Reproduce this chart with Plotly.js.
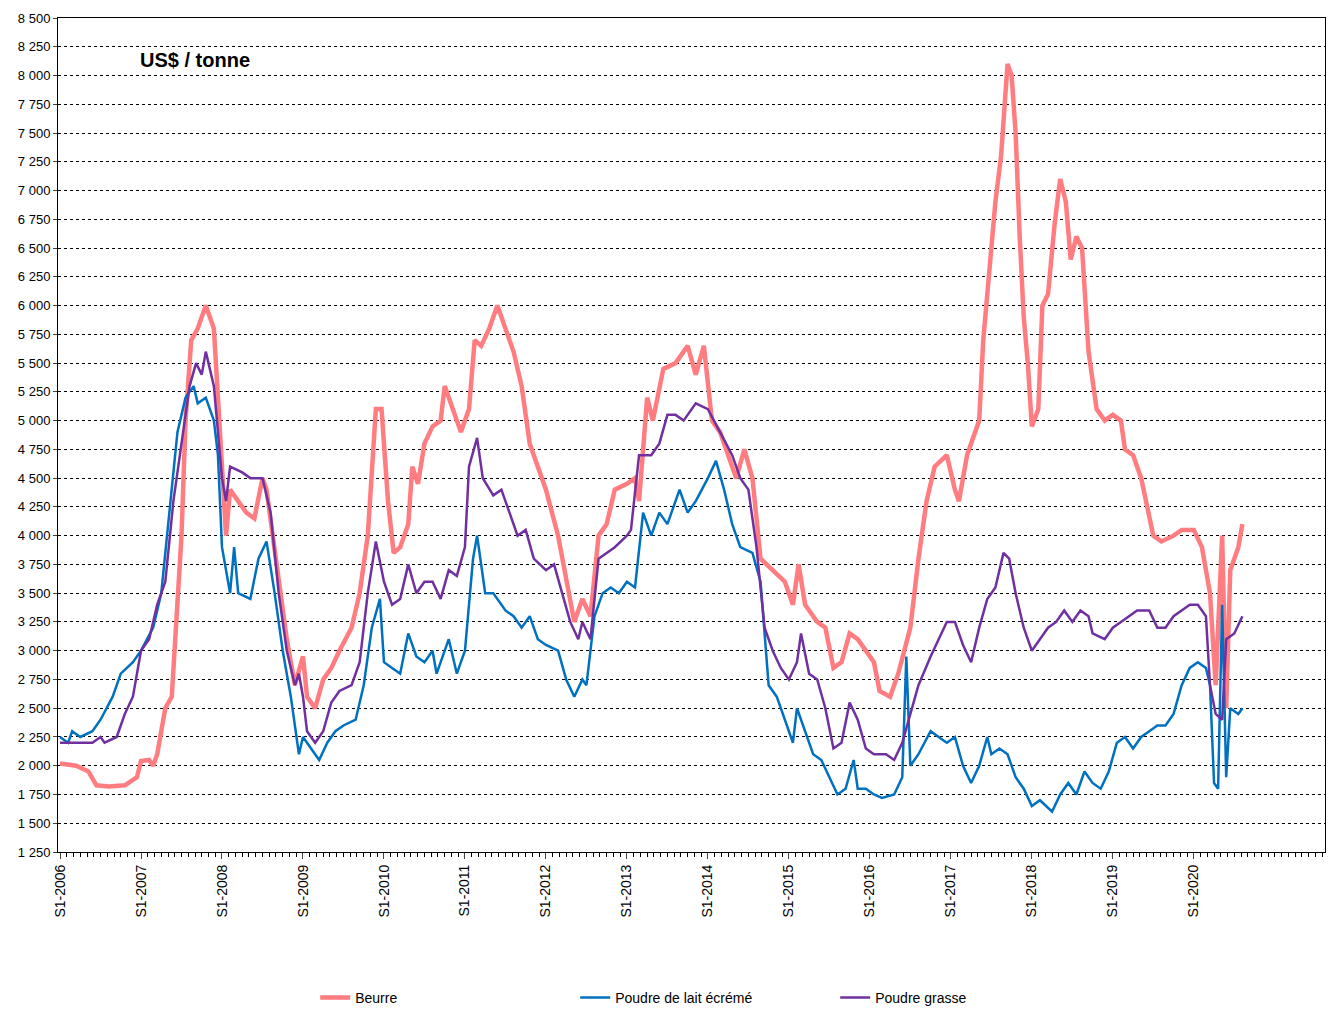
<!DOCTYPE html>
<html><head><meta charset="utf-8">
<script src="https://cdn.plot.ly/plotly-3.0.1.min.js"></script>
<style>body{margin:0;background:#fff}</style></head><body>
<div id="c" style="width:1330px;height:1014px"></div>
<script>
const beurreX=[2006.0,2006.2,2006.35,2006.45,2006.6,2006.8,2006.95,2007.0,2007.1,2007.15,2007.2,2007.3,2007.38,2007.45,2007.5,2007.55,2007.62,2007.7,2007.8,2007.9,2007.95,2008.0,2008.05,2008.1,2008.2,2008.3,2008.4,2008.5,2008.55,2008.7,2008.8,2008.9,2009.0,2009.05,2009.15,2009.25,2009.35,2009.45,2009.6,2009.7,2009.8,2009.9,2009.97,2010.05,2010.12,2010.2,2010.3,2010.35,2010.42,2010.5,2010.6,2010.7,2010.75,2010.85,2010.95,2011.05,2011.12,2011.2,2011.3,2011.4,2011.5,2011.6,2011.7,2011.8,2011.9,2012.0,2012.15,2012.25,2012.35,2012.45,2012.55,2012.65,2012.75,2012.85,2013.0,2013.1,2013.15,2013.25,2013.32,2013.45,2013.6,2013.75,2013.85,2013.95,2014.05,2014.15,2014.25,2014.35,2014.45,2014.55,2014.65,2014.8,2014.95,2015.05,2015.12,2015.2,2015.35,2015.45,2015.55,2015.65,2015.75,2015.85,2015.95,2016.05,2016.12,2016.25,2016.35,2016.5,2016.6,2016.7,2016.8,2016.95,2017.05,2017.1,2017.2,2017.35,2017.4,2017.5,2017.55,2017.62,2017.7,2017.75,2017.8,2017.85,2017.9,2017.95,2018.0,2018.08,2018.13,2018.2,2018.28,2018.35,2018.42,2018.48,2018.55,2018.62,2018.7,2018.8,2018.9,2019.0,2019.1,2019.15,2019.25,2019.35,2019.5,2019.6,2019.75,2019.85,2020.0,2020.1,2020.2,2020.27,2020.35,2020.4,2020.45,2020.55,2020.6];
const beurreY=[2020,2000,1950,1830,1820,1830,1900,2040,2050,2000,2100,2500,2600,3500,4000,5000,5700,5800,6000,5800,5200,4500,4000,4400,4300,4200,4150,4500,4400,3600,3100,2700,2950,2600,2500,2750,2850,3000,3200,3500,4000,5100,5100,4300,3850,3900,4100,4600,4450,4800,4950,5000,5300,5100,4900,5100,5700,5650,5800,6000,5800,5600,5300,4800,4600,4400,4000,3600,3250,3450,3300,4000,4100,4400,4450,4500,4300,5200,5000,5450,5500,5650,5400,5650,5000,4900,4700,4500,4750,4500,3800,3700,3600,3400,3750,3400,3250,3200,2850,2900,3150,3100,3000,2900,2650,2600,2800,3200,3800,4300,4600,4700,4400,4300,4700,5000,5700,6500,6900,7300,8100,8000,7500,6600,5900,5500,4950,5100,6000,6100,6700,7100,6900,6400,6600,6500,5600,5100,5000,5050,5000,4750,4700,4500,4000,3950,4000,4050,4050,3900,3500,2700,4000,2500,3700,3900,4100];
const skimX=[2006.0,2006.1,2006.15,2006.25,2006.4,2006.5,2006.65,2006.75,2006.9,2007.0,2007.15,2007.25,2007.35,2007.45,2007.55,2007.65,2007.7,2007.8,2007.9,2007.95,2008.0,2008.1,2008.15,2008.2,2008.35,2008.45,2008.55,2008.65,2008.75,2008.85,2008.95,2009.0,2009.1,2009.2,2009.3,2009.4,2009.5,2009.65,2009.75,2009.85,2009.95,2010.0,2010.1,2010.2,2010.3,2010.4,2010.5,2010.6,2010.65,2010.8,2010.9,2011.0,2011.1,2011.15,2011.25,2011.35,2011.5,2011.6,2011.7,2011.8,2011.9,2012.0,2012.15,2012.25,2012.35,2012.45,2012.5,2012.6,2012.7,2012.8,2012.9,2013.0,2013.1,2013.2,2013.3,2013.4,2013.5,2013.65,2013.75,2013.85,2014.0,2014.1,2014.2,2014.3,2014.4,2014.55,2014.65,2014.75,2014.85,2014.95,2015.05,2015.1,2015.2,2015.3,2015.4,2015.5,2015.6,2015.7,2015.8,2015.85,2015.95,2016.05,2016.15,2016.3,2016.4,2016.45,2016.5,2016.6,2016.75,2016.85,2016.95,2017.05,2017.15,2017.25,2017.35,2017.45,2017.5,2017.6,2017.7,2017.8,2017.9,2018.0,2018.1,2018.25,2018.35,2018.45,2018.55,2018.65,2018.75,2018.85,2018.95,2019.05,2019.15,2019.25,2019.35,2019.45,2019.55,2019.65,2019.75,2019.85,2019.95,2020.05,2020.15,2020.2,2020.25,2020.3,2020.35,2020.4,2020.45,2020.55,2020.6];
const skimY=[2250,2200,2300,2250,2300,2400,2600,2800,2900,3000,3200,3500,4200,4900,5200,5300,5150,5200,5000,4700,3900,3500,3900,3500,3450,3800,3950,3500,3000,2600,2100,2250,2150,2050,2200,2300,2350,2400,2700,3200,3450,2900,2850,2800,3150,2950,2900,3000,2800,3100,2800,3000,3800,4000,3500,3500,3350,3300,3200,3300,3100,3050,3000,2750,2600,2750,2700,3300,3500,3550,3500,3600,3550,4200,4000,4200,4100,4400,4200,4300,4500,4650,4400,4100,3900,3850,3600,2700,2600,2400,2200,2500,2300,2100,2050,1900,1750,1800,2050,1800,1800,1750,1720,1750,1900,2950,2000,2100,2300,2250,2200,2250,2000,1850,2000,2250,2100,2150,2100,1900,1800,1650,1700,1600,1750,1850,1750,1950,1850,1800,1950,2200,2250,2150,2250,2300,2350,2350,2450,2700,2850,2900,2850,2700,1850,1800,3400,1900,2500,2450,2500];
const grasseX=[2006.0,2006.2,2006.4,2006.5,2006.55,2006.7,2006.8,2006.9,2007.0,2007.1,2007.2,2007.3,2007.4,2007.5,2007.6,2007.68,2007.75,2007.8,2007.9,2008.0,2008.05,2008.1,2008.25,2008.35,2008.5,2008.6,2008.7,2008.8,2008.9,2008.95,2009.0,2009.05,2009.15,2009.25,2009.35,2009.45,2009.6,2009.7,2009.8,2009.9,2010.0,2010.1,2010.2,2010.3,2010.4,2010.5,2010.6,2010.7,2010.8,2010.9,2011.0,2011.05,2011.15,2011.22,2011.35,2011.45,2011.55,2011.65,2011.75,2011.85,2012.0,2012.1,2012.2,2012.3,2012.4,2012.45,2012.55,2012.65,2012.75,2012.85,2013.0,2013.05,2013.15,2013.3,2013.4,2013.5,2013.6,2013.7,2013.85,2014.0,2014.15,2014.3,2014.4,2014.5,2014.6,2014.7,2014.8,2014.9,2015.0,2015.1,2015.15,2015.25,2015.35,2015.45,2015.55,2015.65,2015.75,2015.85,2015.95,2016.05,2016.2,2016.3,2016.4,2016.5,2016.6,2016.75,2016.85,2016.95,2017.05,2017.15,2017.25,2017.35,2017.45,2017.55,2017.65,2017.72,2017.8,2017.9,2018.0,2018.1,2018.2,2018.3,2018.4,2018.5,2018.6,2018.7,2018.75,2018.9,2019.0,2019.1,2019.2,2019.3,2019.45,2019.55,2019.65,2019.75,2019.85,2019.95,2020.05,2020.15,2020.2,2020.27,2020.35,2020.4,2020.5,2020.6];
const grasseY=[2200,2200,2200,2250,2200,2250,2450,2600,3000,3100,3400,3600,4300,4800,5300,5500,5400,5600,5300,4500,4300,4600,4550,4500,4500,4200,3500,3000,2700,2800,2600,2300,2200,2300,2550,2650,2700,2900,3500,3950,3600,3400,3450,3750,3500,3600,3600,3450,3700,3650,3900,4600,4850,4500,4350,4400,4200,4000,4050,3800,3700,3750,3500,3250,3100,3250,3100,3800,3850,3900,4000,4050,4700,4700,4800,5050,5050,5000,5150,5100,4900,4700,4500,4400,3900,3200,3000,2850,2750,2900,3150,2800,2750,2500,2150,2200,2550,2400,2150,2100,2100,2050,2200,2450,2700,2950,3100,3250,3250,3050,2900,3200,3450,3550,3850,3800,3500,3200,3000,3100,3200,3250,3350,3250,3350,3300,3150,3100,3200,3250,3300,3350,3350,3200,3200,3300,3350,3400,3400,3300,2700,2450,2400,3100,3150,3300];
const years=[2006,2007,2008,2009,2010,2011,2012,2013,2014,2015,2016,2017,2018,2019,2020];
const yTicks=[];for(let v=1250;v<=8500;v+=250)yTicks.push(v);
const yText=yTicks.map(v=>v>=1000?Math.floor(v/1000)+' '+String(v%1000).padStart(3,'0'):String(v));
const mk=(x,y,name,color,w)=>({x,y,name,type:'scatter',mode:'lines',line:{color,width:w}});
Plotly.newPlot('c',[
 mk(beurreX,beurreY,'Beurre','#ff7c80',4.5),
 mk(skimX,skimY,'Poudre de lait écrémé','#0070c0',2.5),
 mk(grasseX,grasseY,'Poudre grasse','#7030a0',2.5)
],{
 width:1330,height:1014,margin:{l:58,r:5,t:18,b:162,autoexpand:false},
 paper_bgcolor:'#fff',plot_bgcolor:'#fff',
 font:{family:'Liberation Sans, Arial',size:12,color:'#000'},
 showlegend:true,
 legend:{orientation:'h',x:0.203,xanchor:'left',yref:'container',y:0.0,yanchor:'bottom',font:{size:14},traceorder:'normal',entrywidth:215},
 xaxis:{range:[2005.975,2021.62],tickvals:years,ticktext:years.map(y=>'S1-'+y),tickangle:-90,automargin:false,
   ticks:'outside',ticklen:6,showgrid:false,zeroline:false,showline:true,linecolor:'#000',linewidth:1,mirror:true,
   tickfont:{size:14},minor:{dtick:1/12,tick0:2006,ticks:'outside',ticklen:4,tickcolor:'#000',showgrid:false}},
 yaxis:{range:[1250,8500],tickvals:yTicks,ticktext:yText,ticks:'outside',ticklen:4,automargin:false,
   showgrid:true,gridcolor:'#000',griddash:'dot',gridwidth:1,zeroline:false,showline:true,linecolor:'#000',mirror:true,tickfont:{size:13}},
 annotations:[{text:'<b>US$ / tonne</b>',xref:'paper',yref:'paper',x:0.063,y:0.95,xanchor:'left',yanchor:'middle',showarrow:false,font:{size:20}}]
},{displayModeBar:false});
</script></body></html>
